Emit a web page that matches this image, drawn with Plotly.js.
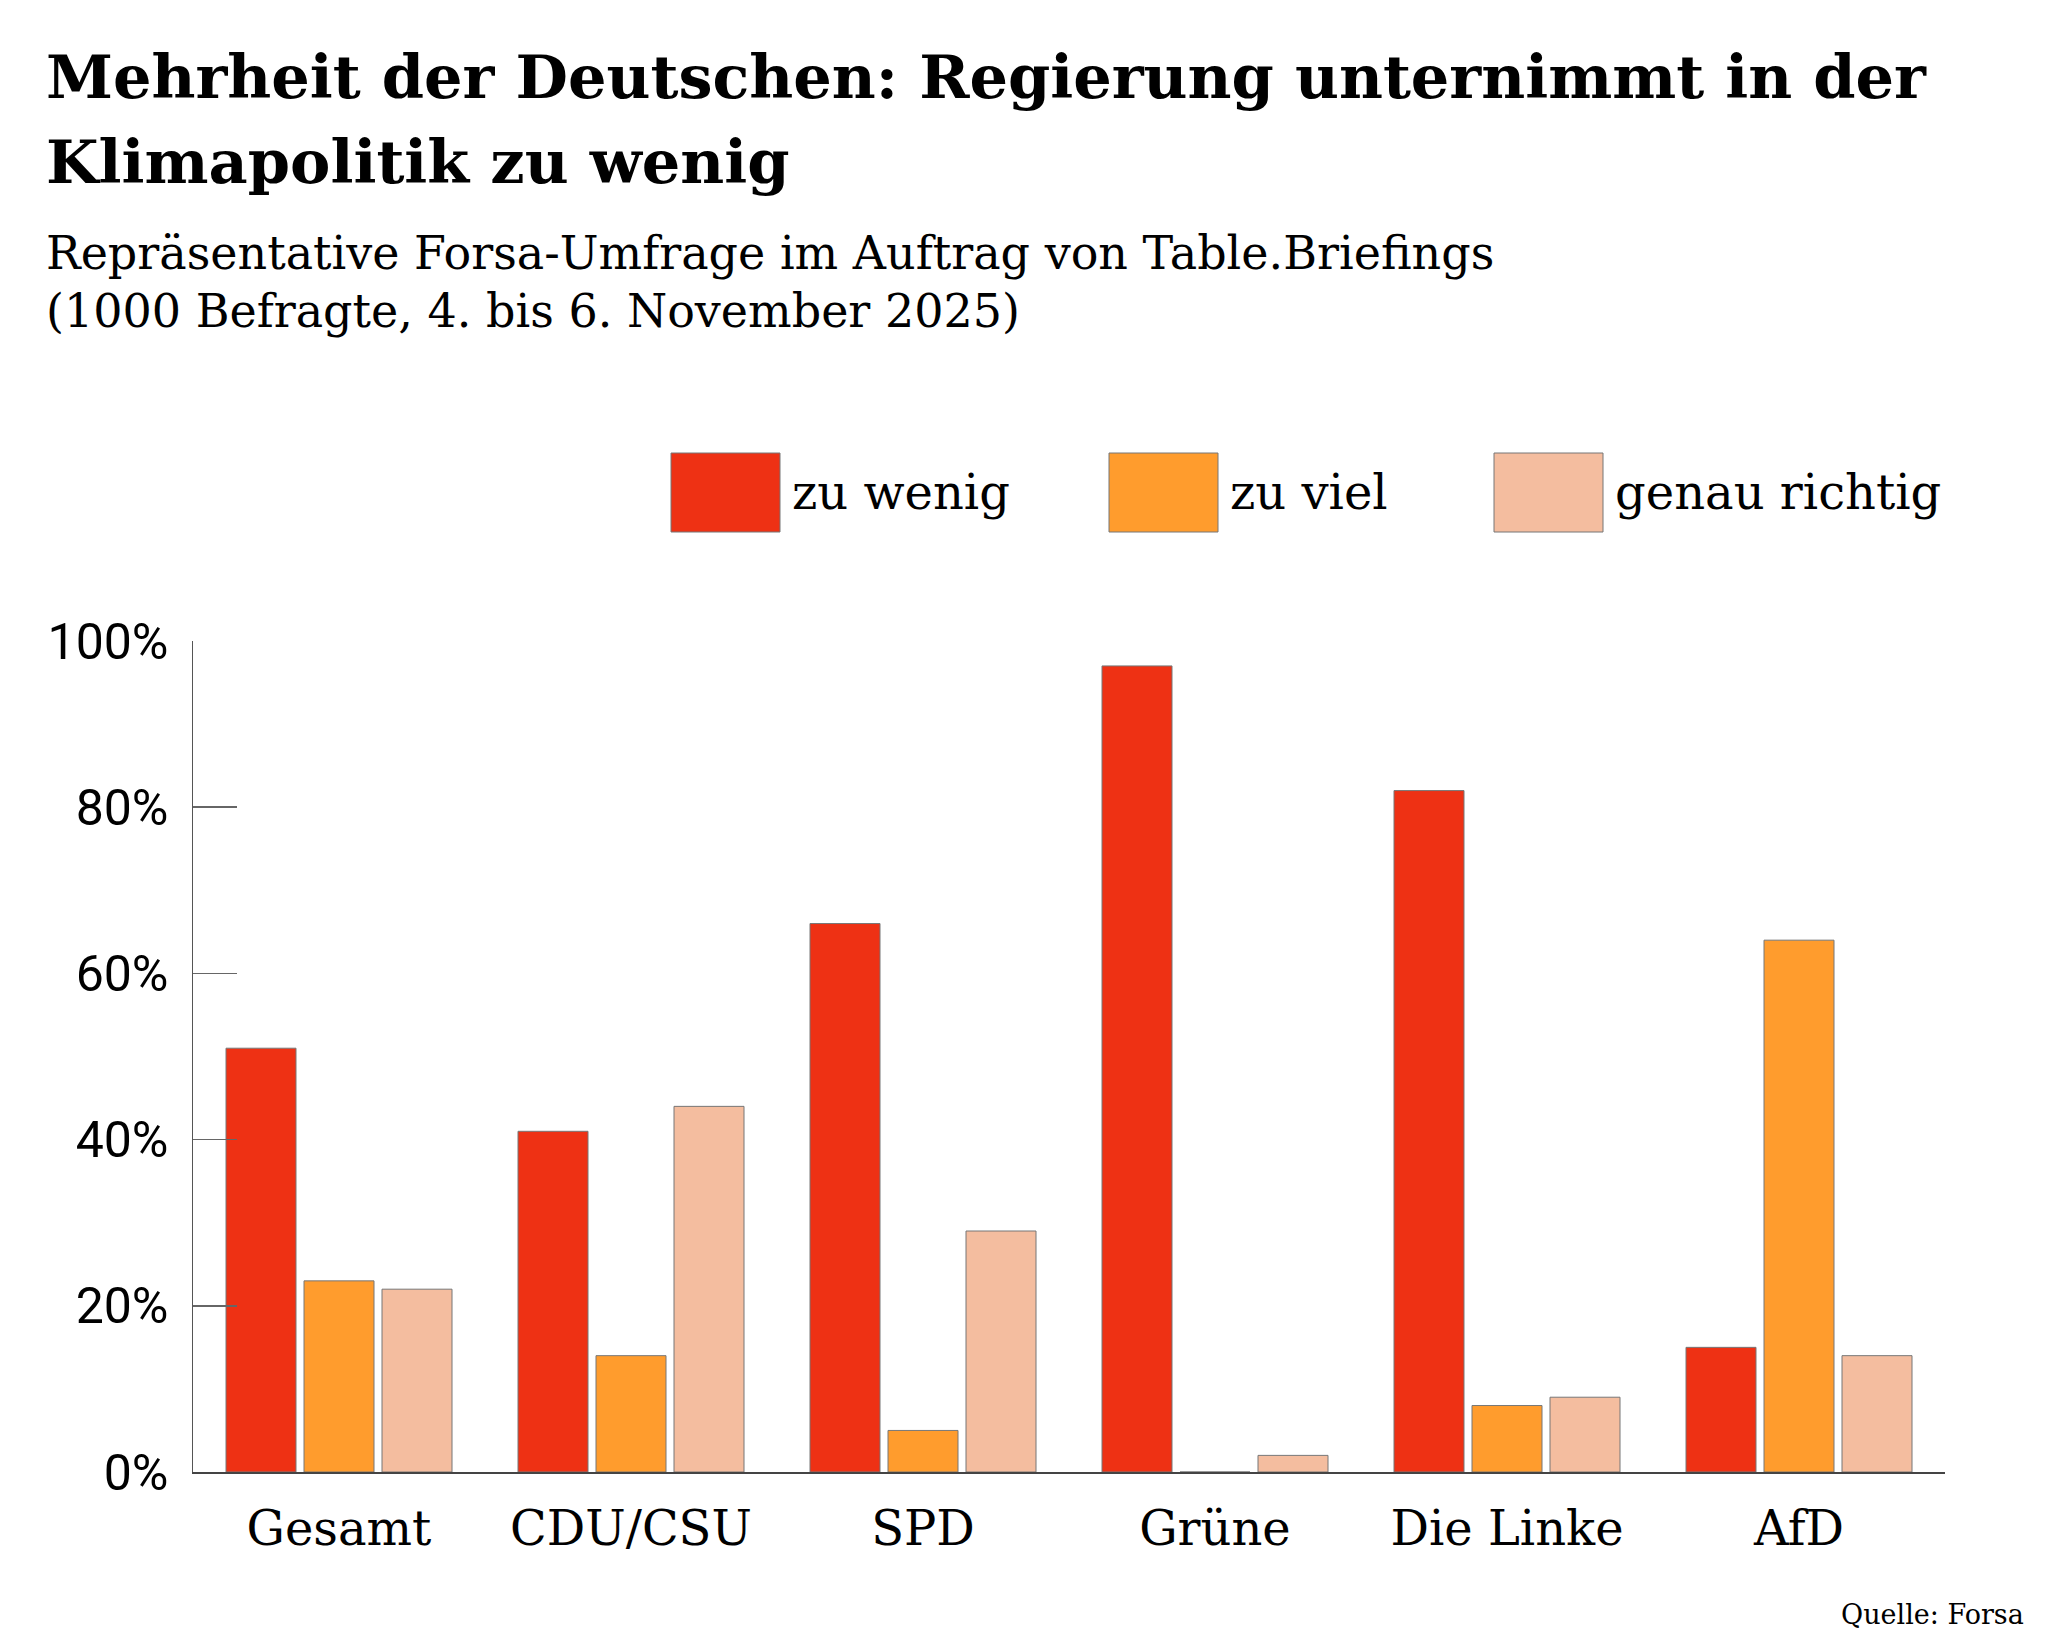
<!DOCTYPE html>
<html>
<head>
<meta charset="utf-8">
<script src="https://cdn.plot.ly/plotly-3.0.1.min.js"></script>
<style>html,body{margin:0;padding:0;background:#fff;}#chart{width:2048px;height:1651px;}</style>
</head>
<body>
<div id="chart"></div>
<script>
// ---- data ----
const categories = ['Gesamt', 'CDU/CSU', 'SPD', 'Grüne', 'Die Linke', 'AfD'];
const zuWenig = [51, 41, 66, 97, 82, 15];
const zuViel = [23, 14, 5, 0, 8, 64];
const genauRichtig = [22, 44, 29, 2, 9, 14];
const seriesNames = ['zu wenig', 'zu viel', 'genau richtig'];
const seriesColors = ['#EE3114', '#FF9C2D', '#F4BD9F'];
const yTickVals = [0, 20, 40, 60, 80, 100];
const yTickText = ['0%', '20%', '40%', '60%', '80%', '100%'];
const titleLines = ['Mehrheit der Deutschen: Regierung unternimmt in der', 'Klimapolitik zu wenig'];
const subtitleLines = ['Repräsentative Forsa-Umfrage im Auftrag von Table.Briefings', '(1000 Befragte, 4. bis 6. November 2025)'];
const sourceText = 'Quelle: Forsa';

// ---- layout geometry (pixels) ----
const W = 2048, H = 1651;
const M = {l: 193, r: 103, t: 641, b: 179};
const plotW = W - M.l - M.r, plotH = H - M.t - M.b;
const px = x => (x - M.l) / plotW;
const py = y => (H - M.b - y) / plotH;

const SERIF = 'DejaVu Serif, serif';
const SANS = 'Roboto, sans-serif';

const seriesValues = [zuWenig, zuViel, genauRichtig];
const traces = seriesValues.map((vals, i) => ({
  type: 'bar',
  name: seriesNames[i],
  x: categories,
  y: vals,
  marker: {color: seriesColors[i], line: {color: '#777777', width: 1}},
  hoverinfo: 'skip'
}));

const annotations = [];
const shapes = [];
// title
annotations.push({xref: 'paper', yref: 'paper', x: px(44), y: py(77), xanchor: 'left', yanchor: 'middle',
  text: '<b>' + titleLines[0] + '</b>', showarrow: false, font: {family: SERIF, size: 60.5, color: '#000'}});
annotations.push({xref: 'paper', yref: 'paper', x: px(44), y: py(161), xanchor: 'left', yanchor: 'middle',
  text: '<b>' + titleLines[1] + '</b>', showarrow: false, font: {family: SERIF, size: 60.5, color: '#000'}});
// subtitle
annotations.push({xref: 'paper', yref: 'paper', x: px(44), y: py(253), xanchor: 'left', yanchor: 'middle',
  text: subtitleLines[0], showarrow: false, font: {family: SERIF, size: 46, color: '#000'}});
annotations.push({xref: 'paper', yref: 'paper', x: px(44), y: py(311), xanchor: 'left', yanchor: 'middle',
  text: subtitleLines[1], showarrow: false, font: {family: SERIF, size: 46, color: '#000'}});
// legend (custom, large swatches)
const legBoxX = [671, 1109, 1494];
seriesNames.forEach((n, i) => {
  shapes.push({type: 'rect', xref: 'paper', yref: 'paper', x0: px(legBoxX[i]), x1: px(legBoxX[i] + 109),
    y0: py(532), y1: py(453), fillcolor: seriesColors[i], line: {color: '#777777', width: 1}});
  annotations.push({xref: 'paper', yref: 'paper', x: px(legBoxX[i] + 119), y: py(492), xanchor: 'left', yanchor: 'middle',
    text: n, showarrow: false, font: {family: SERIF, size: 48, color: '#000'}});
});
// source
annotations.push({xref: 'paper', yref: 'paper', x: px(2026), y: py(1614), xanchor: 'right', yanchor: 'middle',
  text: sourceText, showarrow: false, font: {family: SERIF, size: 27, color: '#000'}});

const layout = {
  width: W, height: H,
  margin: M,
  paper_bgcolor: '#ffffff', plot_bgcolor: '#ffffff',
  showlegend: false,
  barmode: 'group',
  bargap: 0.1986,
  bargroupgap: 0.1026,
  xaxis: {
    type: 'category', showgrid: false, zeroline: false,
    showline: true, linecolor: '#444444', linewidth: 1.5,
    ticks: '', tickfont: {family: SERIF, size: 48, color: '#000'},
    ticklabelstandoff: 14
  },
  yaxis: {
    range: [0, 100], showgrid: false, zeroline: false,
    showline: true, linecolor: '#555555', linewidth: 1.5,
    ticks: 'inside', ticklen: 44, tickcolor: '#666666', tickwidth: 1.5,
    tickvals: yTickVals, ticktext: yTickText,
    tickfont: {family: SANS, size: 50, color: '#000'},
    ticklabelstandoff: 13
  },
  annotations: annotations,
  shapes: shapes
};

Plotly.newPlot('chart', traces, layout, {staticPlot: true, displayModeBar: false});
</script>
</body>
</html>
